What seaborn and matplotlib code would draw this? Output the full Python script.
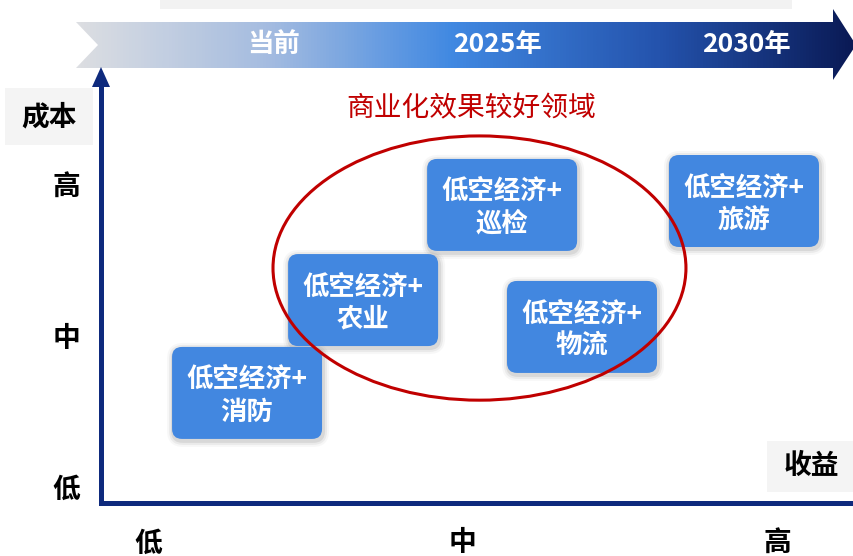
"""Low-altitude economy: cost vs benefit positioning diagram."""
import matplotlib
matplotlib.use("Agg")
import matplotlib.pyplot as plt
import numpy as np
import seaborn as sns
from matplotlib.colors import LinearSegmentedColormap
from matplotlib.patches import Ellipse, FancyBboxPatch, Polygon, Rectangle
from matplotlib.transforms import ScaledTranslation

# --- data -------------------------------------------------------------
scenarios = ["消防", "农业", "巡检", "物流", "旅游"]
benefit = [0.315, 0.684, 1.126, 1.380, 1.895]   # 0 = 低, 1 = 中, 2 = 高
cost = [0.623, 1.238, 1.868, 1.060, 1.894]
level_labels = ["低", "中", "高"]
timeline = ["当前", "2025年", "2030年"]
focus_title = "商业化效果较好领域"
focus_center = (1.054, 1.450)
focus_size = (1.313, 1.75)

NAVY = "#0e2a7d"
BOX = "#4287e0"
RED = "#c00000"

sns.set_theme(style="white")
plt.rcParams["font.family"] = ["Noto Sans CJK SC", "DejaVu Sans"]

W, H = 854, 556
fig = plt.figure(figsize=(W / 100, H / 100), dpi=100)

# decoration layer in pixel coordinates
deco = fig.add_axes([0, 0, 1, 1], zorder=0)
deco.axis("off")

deco.add_patch(Rectangle((160, 0), 632, 9, fc="#f2f2f2", ec="none"))

# timeline banner with gradient fill
banner = Polygon([(76, 22), (833, 22), (833, 9), (856, 45), (833, 80),
                  (833, 68), (76, 68), (98, 45)], closed=True, fc="none", ec="none")
deco.add_patch(banner)
cmap = LinearSegmentedColormap.from_list(
    "banner", [(0, "#dcdee2"), (0.25, "#a3bbe0"), (0.48, "#4189e2"),
               (0.75, "#2453ad"), (1, "#0a1a55")])
grad = deco.imshow(np.linspace(0, 1, 256).reshape(1, -1), cmap=cmap,
                   extent=(76, 856, 80, 9), aspect="auto", interpolation="bicubic")
grad.set_clip_path(banner)
for lbl, px in zip(timeline, [274, 497, 746]):
    deco.text(px, 44, lbl, color="white", fontsize=19, fontweight="bold",
              ha="center", va="center")

# axis name boxes
deco.add_patch(Rectangle((5, 88), 88, 57, fc="#f4f4f4", ec="none"))
deco.text(49, 117, "成本", fontsize=20, fontweight="bold", color="black",
          ha="center", va="center")
deco.add_patch(Rectangle((767, 441), 87, 51, fc="#f4f4f4", ec="none"))
deco.text(811, 466, "收益", fontsize=20, fontweight="bold", color="black",
          ha="center", va="center")

# y-axis arrow head
deco.add_patch(Polygon([(92, 87), (110, 87), (101, 67)], closed=True, fc=NAVY, ec="none"))

deco.text(471, 108, focus_title, fontsize=20, color=RED, ha="center", va="center")
deco.set_xlim(0, W)
deco.set_ylim(H, 0)

# main cost/benefit axes
ax = fig.add_axes([101 / W, (H - 503) / H, (W - 101) / W, (503 - 87) / H], zorder=1)
ax.patch.set_alpha(0)
ax.set_xlim(-0.1494, 2.2448)
ax.set_ylim(-0.106, 2.649)
sns.despine(ax=ax)
for side in ["left", "bottom"]:
    ax.spines[side].set_color(NAVY)
    ax.spines[side].set_linewidth(3.6)
ax.set_xticks([0, 1, 2], level_labels)
ax.set_yticks([0, 1, 2], level_labels)
ax.tick_params(axis="x", length=0, labelsize=20, pad=19)
ax.tick_params(axis="y", length=0, labelsize=20, pad=15)
for t in ax.get_xticklabels() + ax.get_yticklabels():
    t.set_fontweight("bold")
    t.set_color("black")
ax.grid(False)

for name, x, y in zip(scenarios, benefit, cost):
    tr = fig.dpi_scale_trans + ScaledTranslation(x, y, ax.transData)
    for pad, a in [(0.06, 0.06), (0.04, 0.10), (0.02, 0.16)]:
        ax.add_patch(FancyBboxPatch((-0.75 + 0.01, -0.46 - 0.02), 1.5, 0.92,
                                    boxstyle=f"round,pad={pad},rounding_size={0.1 + pad}",
                                    fc="#808080", ec="none", alpha=a,
                                    transform=tr, clip_on=False, zorder=2))
    ax.add_patch(FancyBboxPatch((-0.75, -0.46), 1.5, 0.92,
                                boxstyle="round,pad=0,rounding_size=0.1",
                                fc=BOX, ec="none", transform=tr, clip_on=False, zorder=3))
    ax.text(x, y - 0.02, f"低空经济+\n{name}", color="white", fontsize=19,
            fontweight="bold", ha="center", va="center", linespacing=1.25, zorder=4)

ax.add_patch(Ellipse(focus_center, *focus_size, fill=False, ec=RED, lw=2.2, zorder=5))

fig.savefig("out.png", dpi=100)
